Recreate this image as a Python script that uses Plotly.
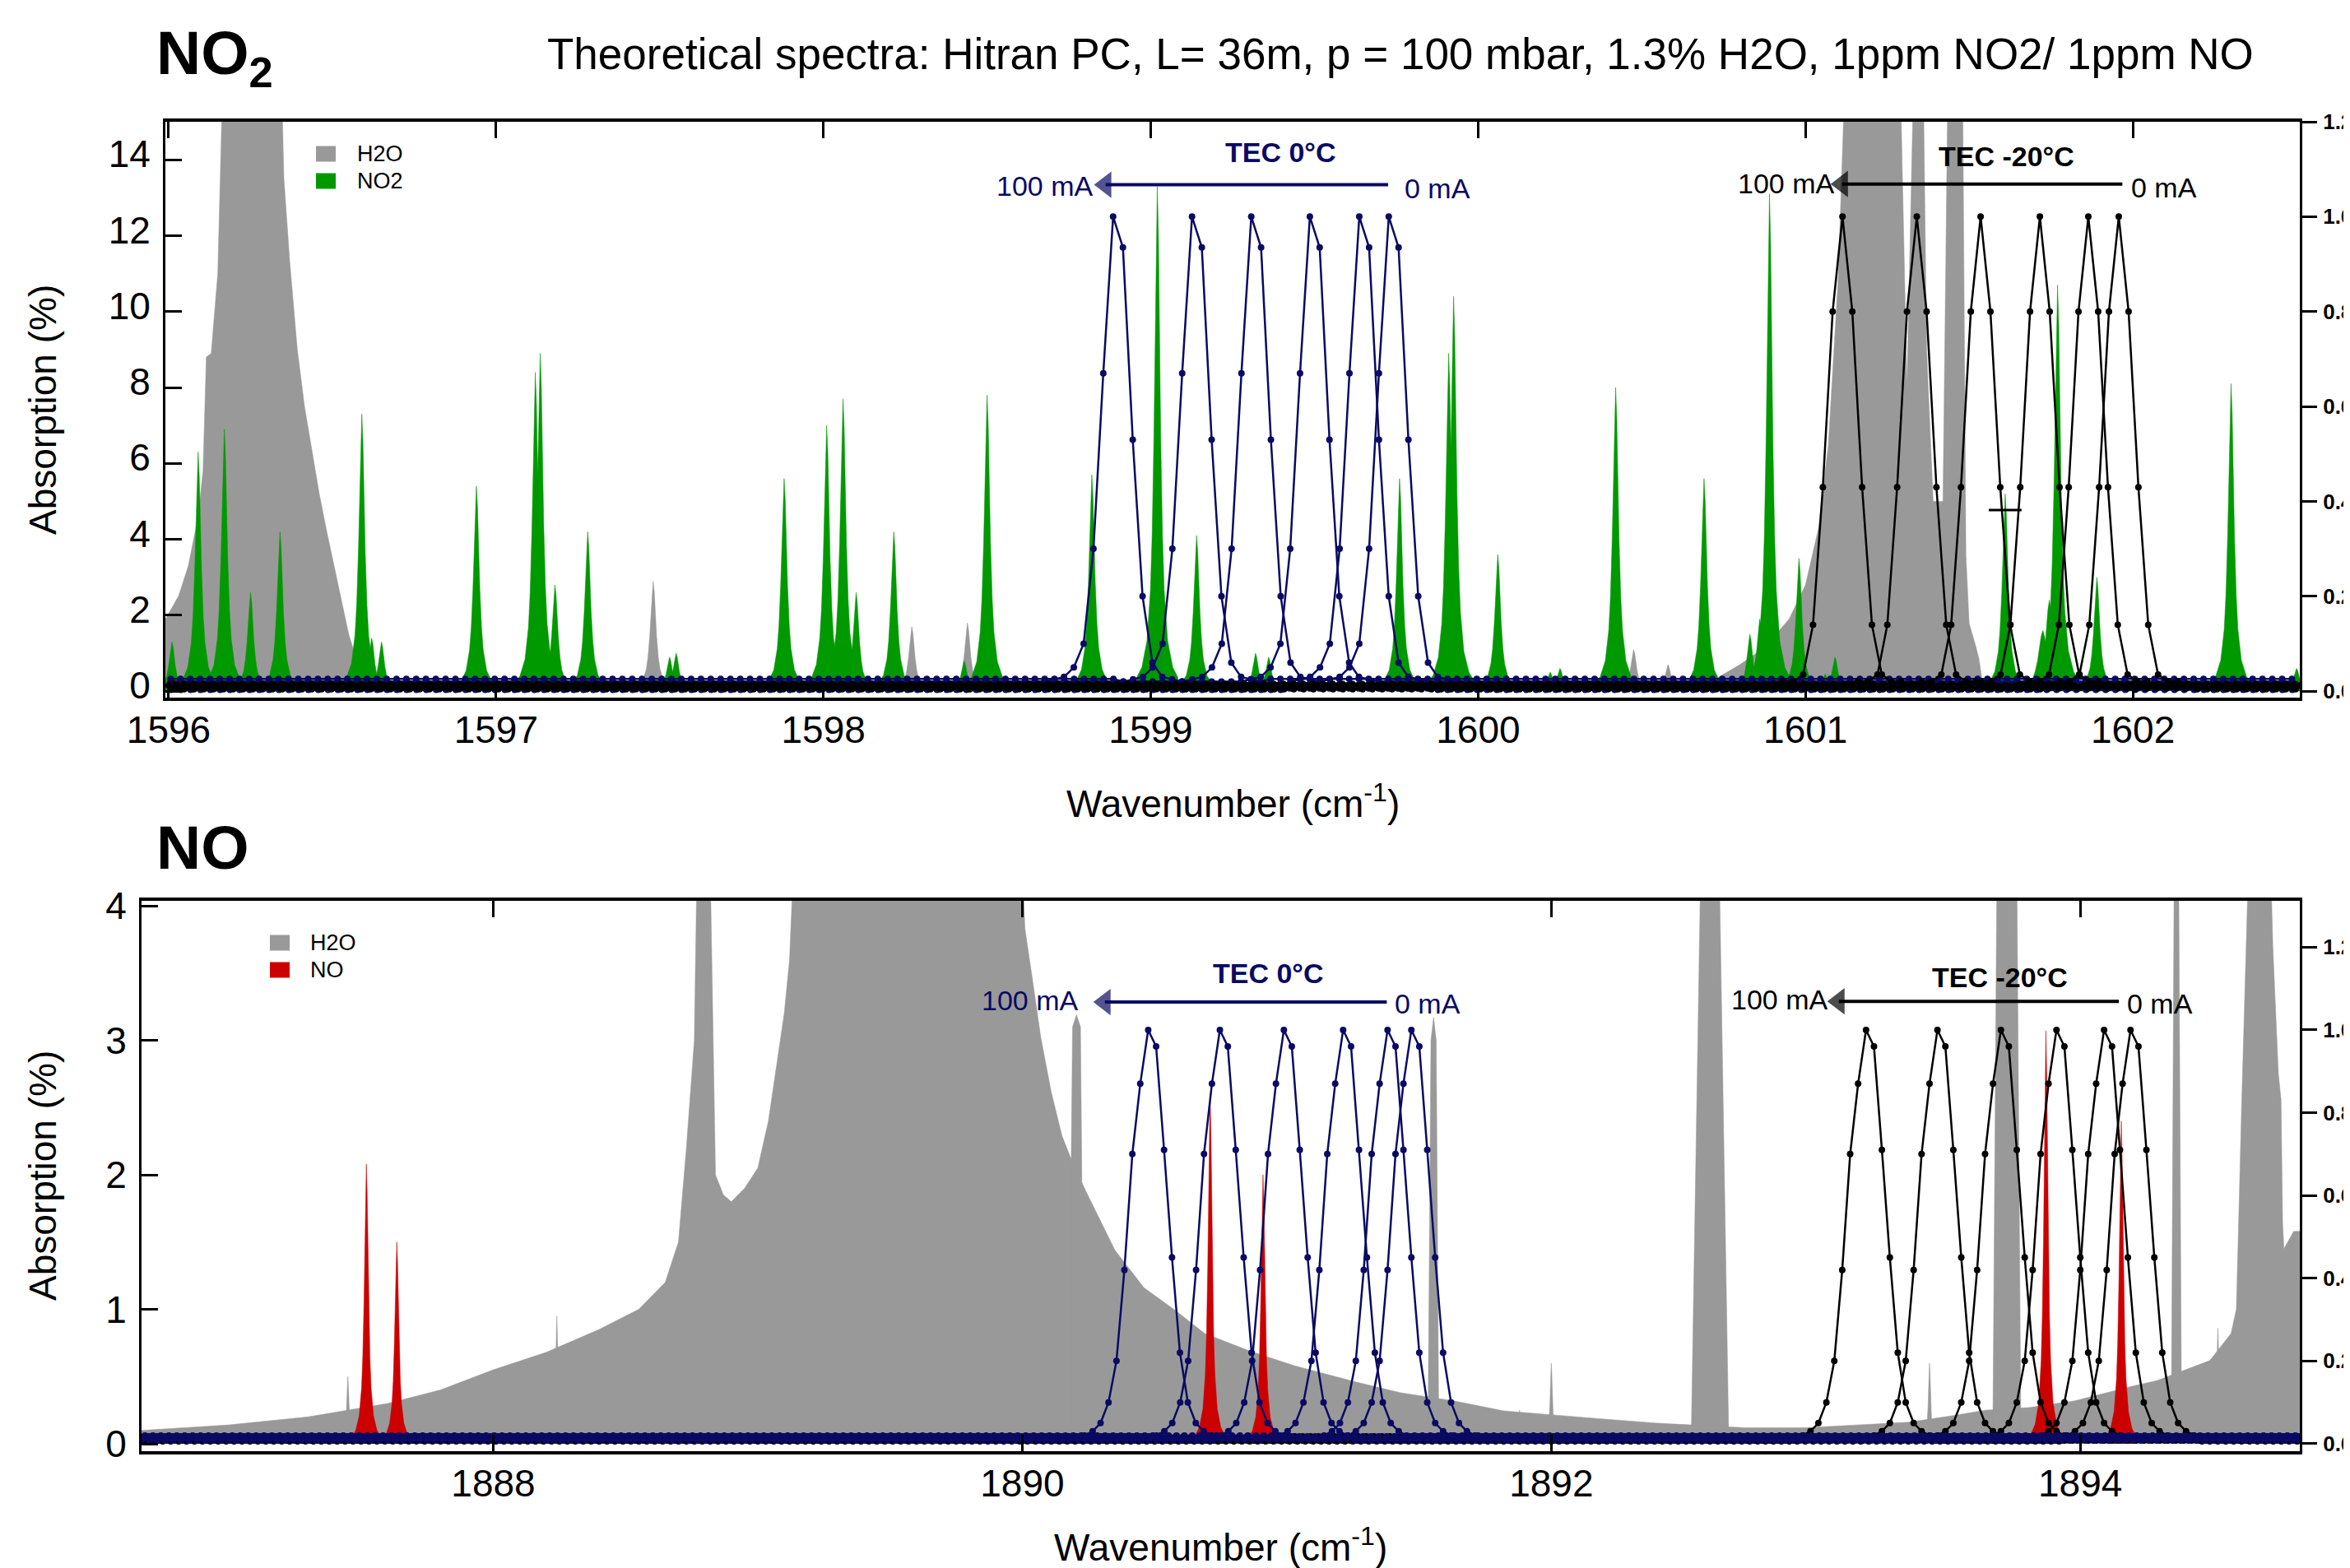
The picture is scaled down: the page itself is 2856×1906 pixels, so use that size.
import numpy as np
import plotly.graph_objects as go

W, H = 2856, 1906
FONT = "Liberation Sans, Arial, sans-serif"
GRAY = "#999999"
GREEN = "#009900"
RED = "#cc0000"
NAVY = "#0a0a64"
BLACK = "#000000"

# ---------------- data: top panel (NO2 region) ----------------
# NO2 absorption lines: position (cm-1), peak absorption (%), half width (cm-1)
NO2_POS = [1596.01, 1596.09, 1596.17, 1596.25, 1596.34, 1596.59, 1596.62, 1596.65,
           1596.94, 1597.12, 1597.135, 1597.18, 1597.28, 1597.53, 1597.55, 1597.88,
           1598.01, 1598.06, 1598.10, 1598.215, 1598.43, 1598.50, 1598.82, 1599.02,
           1599.14, 1599.32, 1599.36, 1599.76, 1599.91, 1599.925, 1600.06, 1600.22,
           1600.25, 1600.42, 1600.69, 1600.83, 1600.86, 1600.89, 1600.98, 1601.06,
           1601.09, 1601.61, 1601.725, 1601.745, 1601.77, 1601.89, 1601.97, 1602.30,
           1602.50]
NO2_HGT = [1.3, 6.3, 6.9, 2.6, 4.2, 7.3, 1.4, 1.3,
           5.4, 8.4, 8.9, 2.8, 4.2, 0.9, 1.0, 5.6,
           7.0, 7.7, 2.6, 4.2, 0.8, 7.8, 5.7, 13.3,
           4.1, 1.0, 0.9, 5.6, 8.9, 10.4, 3.6, 0.5,
           0.6, 8.0, 5.6, 1.5, 1.9, 13.1, 3.5, 0.45,
           0.9, 5.2, 1.6, 2.4, 10.7, 3.0, 0.4, 8.1,
           0.6]
NO2_HW = [0.0105] * 42 + [0.016, 0.013, 0.011, 0.0105, 0.0105, 0.0105, 0.0105]

# H2O narrow lines (top)
H2O_TOP_POS = [1597.32, 1597.48, 1598.27, 1598.44, 1600.475, 1600.58]
H2O_TOP_HGT = [0.35, 2.9, 1.7, 1.8, 1.1, 0.7]
H2O_TOP_HW = [0.0105, 0.0105, 0.0105, 0.0105, 0.0105, 0.0105]
# H2O strong / saturated bands (top), outline vertices
H2O_TOP_BAND_X = [
    [1595.99, 1596.03, 1596.06, 1596.09, 1596.105, 1596.115, 1596.13, 1596.15, 1596.165,
     1596.345, 1596.352, 1596.37, 1596.393, 1596.415, 1596.438, 1596.46, 1596.483,
     1596.505, 1596.528, 1596.55, 1596.575, 1596.6, 1596.645, 1596.70],
    [1600.70, 1600.75, 1600.80, 1600.85, 1600.90, 1600.95, 1601.0, 1601.04, 1601.07,
     1601.10, 1601.12, 1601.29, 1601.30, 1601.31, 1601.32, 1601.33, 1601.36, 1601.37,
     1601.39, 1601.42, 1601.435, 1601.48, 1601.49, 1601.50, 1601.52, 1601.53, 1601.54,
     1601.56],
]
H2O_TOP_BAND_Y = [
    [1.9, 2.5, 3.3, 4.6, 5.8, 8.8, 8.9, 11.0, 16.0,
     16.0, 13.5, 11.3, 9.0, 7.5, 6.3, 5.2, 4.2,
     3.3, 2.4, 1.5, 0.8, 0.4, 0.25, 0.15],
    [0.2, 0.45, 0.7, 1.0, 1.4, 1.9, 2.8, 4.3, 6.5,
     10.9, 16.0, 16.0, 12.0, 8.0, 12.0, 16.0, 16.0, 9.0,
     5.0, 5.0, 16.0, 16.0, 3.58, 1.78, 1.19, 0.85, 0.26,
     0.1],
]

# laser scans (relative intensity, right axis), TEC 0 C and TEC -20 C
LASER_TOP_NAVY = [1598.885, 1599.126, 1599.307, 1599.486, 1599.637, 1599.727]
LASER_TOP_BLACK = [1601.113, 1601.34, 1601.535, 1601.716, 1601.864, 1601.957]
LASER_TOP_NAVY_BASE = [0.006, 0.026, 0.014, 0.02, 0.003, 0.017]
LASER_TOP_BLACK_BASE = [0.006, 0.012, 0.009, 0.015, 0.01, 0.004]
# sampled profiles (sample index -> relative intensity), sample step 0.03 cm-1
PROF_K = [-7, -6, -5, -4, -3, -2, -1, 0, 1, 2, 3, 4, 5, 6, 7]
PROF_TOP_NAVY = [0.02, 0.025, 0.03, 0.05, 0.1, 0.3, 0.67, 1.0, 0.935, 0.53, 0.2, 0.06, 0.03, 0.025, 0.02]
PROF_TOP_BLACK = [0.015, 0.02, 0.02, 0.035, 0.14, 0.43, 0.8, 1.0, 0.8, 0.43, 0.14, 0.035, 0.02, 0.02, 0.015]

# ---------------- data: bottom panel (NO region) ----------------
NO_POS = [1887.52, 1887.635, 1890.71, 1890.91, 1893.87, 1894.155]
NO_HGT = [2.08, 1.5, 2.6, 2.0, 3.07, 2.4]
NO_HW = [0.009, 0.009, 0.009, 0.009, 0.009, 0.009]

H2O_BOT_POS = [1887.45, 1888.24, 1891.88, 1892.0, 1893.43, 1894.52]
H2O_BOT_HGT = [0.5, 0.95, 0.25, 0.6, 0.6, 0.86]
H2O_BOT_HW = [0.005, 0.005, 0.005, 0.005, 0.005, 0.005]
H2O_BOT_BAND_X = [
    [1886.67, 1887.0, 1887.3, 1887.6, 1887.8, 1888.0, 1888.2, 1888.4, 1888.55, 1888.65,
     1888.70, 1888.73, 1888.76, 1888.77, 1888.82, 1888.84, 1888.87, 1888.90, 1888.95,
     1889.0, 1889.04, 1889.07, 1889.10, 1889.12, 1889.135, 1890.0, 1890.01, 1890.04,
     1890.07, 1890.11, 1890.15, 1890.18, 1890.24, 1890.35, 1890.46, 1890.58, 1890.69,
     1890.86, 1891.03, 1891.26, 1891.43, 1891.63, 1891.82, 1892.16, 1892.39, 1892.53,
     1892.73, 1892.96, 1893.18, 1893.35, 1893.52, 1893.64, 1893.81, 1893.98, 1894.1,
     1894.2, 1894.29, 1894.40, 1894.49, 1894.57, 1894.59, 1894.598, 1894.61, 1894.636,
     1894.72, 1894.728, 1894.749, 1894.759, 1894.765, 1894.77, 1894.807, 1894.83],
    [1890.185, 1890.19, 1890.205, 1890.22, 1890.225],
    [1891.535, 1891.545, 1891.555, 1891.565, 1891.575],
    [1892.53, 1892.565, 1892.635, 1892.67],
    [1893.67, 1893.685, 1893.76, 1893.775],
    [1894.345, 1894.355, 1894.372, 1894.382],
]
H2O_BOT_BAND_Y = [
    [0.10, 0.14, 0.2, 0.3, 0.4, 0.55, 0.68, 0.85, 1.0, 1.2,
     1.5, 2.2, 3.0, 4.3, 4.3, 2.0, 1.85, 1.8, 1.9,
     2.05, 2.4, 2.8, 3.2, 3.6, 4.3, 4.3, 3.83, 3.43,
     3.02, 2.61, 2.29, 2.14, 1.88, 1.44, 1.16, 0.99, 0.82,
     0.69, 0.58, 0.46, 0.38, 0.32, 0.245, 0.19, 0.155, 0.14,
     0.12, 0.12, 0.14, 0.16, 0.21, 0.25, 0.27, 0.32, 0.38,
     0.43, 0.47, 0.55, 0.62, 0.82, 1.0, 1.59, 2.51, 4.3,
     4.3, 3.7, 2.75, 2.56, 1.64, 1.45, 1.58, 1.58],
    [2.1, 3.1, 3.19, 3.1, 2.0],
    [0.4, 3.0, 3.17, 3.0, 0.4],
    [0.15, 4.3, 4.3, 0.15],
    [0.25, 4.3, 4.3, 0.25],
    [0.45, 4.3, 4.3, 0.5],
]

LASER_BOT_NAVY = [1890.476, 1890.747, 1890.989, 1891.213, 1891.381, 1891.471]
LASER_BOT_BLACK = [1893.19, 1893.46, 1893.70, 1893.91, 1894.09, 1894.19]
LASER_BOT_NAVY_BASE = [0.012, 0.018, 0.008, 0.02, 0.014, 0.01]
LASER_BOT_BLACK_BASE = [0.008, 0.014, 0.018, 0.01, 0.012, 0.006]
PROF_BOT_K = [-8, -7, -6, -5, -4, -3, -2, -1, 0, 1, 2, 3, 4, 5, 6, 7, 8]
PROF_BOT = [0.02, 0.03, 0.05, 0.1, 0.2, 0.42, 0.7, 0.87, 1.0, 0.96, 0.71, 0.45, 0.22, 0.1, 0.05, 0.03, 0.02]

# normalised line shape (offset in units of half width -> fraction of peak)
SHAPE_U = [-6, -4.5, -3, -2, -1.5, -1, -0.67, -0.33, 0, 0.33, 0.67, 1, 1.5, 2, 3, 4.5, 6]
SHAPE_F = [0.027, 0.047, 0.1, 0.2, 0.31, 0.5, 0.69, 0.9, 1.0, 0.9, 0.69, 0.5, 0.31, 0.2, 0.1, 0.047, 0.027]

SCAN_STEP = 0.03
TOP_RANGE = [1595.99, 1602.51]
BOT_RANGE = [1886.67, 1894.83]

# tuning-direction arrows: (tail x, head x, y) in data units of each panel
ARROWS_TOP = [(1599.725, 1598.862, 13.34), (1601.968, 1601.112, 13.36)]
ARROWS_BOT = [(1891.378, 1890.312, 3.284), (1894.146, 1893.087, 3.29)]


# ---------------- helpers ----------------
def lines_outline(pos, hgt, hw):
    xs, ys = [], []
    for c, h, w in zip(pos, hgt, hw):
        px = [c + u * w for u in SHAPE_U]
        py_ = [h * f for f in SHAPE_F]
        xs += [px[0]] + px + [px[-1], None]
        ys += [0.0] + py_ + [0.0, None]
    return xs, ys


def bands_outline(bx, by):
    xs, ys = [], []
    for X, Y in zip(bx, by):
        xs += [X[0]] + list(X) + [X[-1], None]
        ys += [0.0] + list(Y) + [0.0, None]
    return xs, ys


def scan(center, ks, vals, base, rng):
    prof = dict(zip(ks, vals))
    k0 = int(np.ceil((rng[0] - center) / SCAN_STEP))
    k1 = int(np.floor((rng[1] - center) / SCAN_STEP))
    kk = list(range(k0, k1 + 1))
    return [center + k * SCAN_STEP for k in kk], [prof.get(k, base) for k in kk]


fig = go.Figure()


def add_fill(xs, ys, color, xa, ya):
    fig.add_trace(go.Scatter(x=xs, y=ys, mode="lines", fill="toself", fillcolor=color,
                             line=dict(color=color, width=0.5), xaxis=xa, yaxis=ya,
                             hoverinfo="skip", showlegend=False))


# top panel spectra
bx, by = bands_outline(H2O_TOP_BAND_X, H2O_TOP_BAND_Y)
lx, ly = lines_outline(H2O_TOP_POS, H2O_TOP_HGT, H2O_TOP_HW)
add_fill(bx + lx, by + ly, GRAY, "x", "y")
nx, ny = lines_outline(NO2_POS, NO2_HGT, NO2_HW)
add_fill(nx, ny, GREEN, "x", "y")

# bottom panel spectra
bx, by = bands_outline(H2O_BOT_BAND_X, H2O_BOT_BAND_Y)
lx, ly = lines_outline(H2O_BOT_POS, H2O_BOT_HGT, H2O_BOT_HW)
add_fill(bx + lx, by + ly, GRAY, "x2", "y3")
rx, ry = lines_outline(NO_POS, NO_HGT, NO_HW)
add_fill(rx, ry, RED, "x2", "y3")


def add_scans(centers, bases, ks, prof, color, rng, xa, ya):
    for c, b in zip(centers, bases):
        x, y = scan(c, ks, prof, b, rng)
        fig.add_trace(go.Scatter(x=x, y=y, mode="lines+markers", xaxis=xa, yaxis=ya,
                                 line=dict(color=color, width=2.5),
                                 marker=dict(color=color, size=8),
                                 hoverinfo="skip", showlegend=False))


add_scans(LASER_TOP_NAVY, LASER_TOP_NAVY_BASE, PROF_K, PROF_TOP_NAVY, NAVY, TOP_RANGE, "x", "y2")
add_scans(LASER_TOP_BLACK, LASER_TOP_BLACK_BASE, PROF_K, PROF_TOP_BLACK, BLACK, TOP_RANGE, "x", "y2")
add_scans(LASER_BOT_BLACK, LASER_BOT_BLACK_BASE, PROF_BOT_K, PROF_BOT, BLACK, BOT_RANGE, "x2", "y4")
add_scans(LASER_BOT_NAVY, LASER_BOT_NAVY_BASE, PROF_BOT_K, PROF_BOT, NAVY, BOT_RANGE, "x2", "y4")


# arrows (line with a triangle head), drawn on the left-axis scale of each panel
def add_arrows(arrows, colors, xa, ya):
    for (tail, head, yy), col in zip(arrows, colors):
        fig.add_trace(go.Scatter(x=[tail, head], y=[yy, yy], mode="lines+markers",
                                 xaxis=xa, yaxis=ya, line=dict(color=col, width=4),
                                 marker=dict(symbol=["line-ns", "triangle-left"], size=[0, 28],
                                             color=col, line=dict(width=0)),
                                 hoverinfo="skip", showlegend=False))


add_arrows(ARROWS_TOP, [NAVY, BLACK], "x", "y")
add_arrows(ARROWS_BOT, [NAVY, BLACK], "x2", "y3")


# ---------------- layout ----------------
def xax(domain, rng, ticks, anchor):
    return dict(domain=domain, range=rng, anchor=anchor, tickvals=ticks, automargin=False,
                ticks="inside", ticklen=20, tickwidth=3, tickcolor="black",
                showline=True, linewidth=4, linecolor="black", mirror="ticks",
                showgrid=False, zeroline=False, ticklabelstandoff=-4,
                tickfont=dict(size=46, family=FONT, color="black"))


def yax(domain, rng, ticks, anchor, shift=0):
    return dict(domain=domain, range=rng, anchor=anchor, tickvals=ticks, automargin=False,
                ticks="inside", ticklen=20, tickwidth=3, tickcolor="black",
                showline=True, linewidth=3, linecolor="black",
                showgrid=False, zeroline=False, ticklabelstandoff=6, ticklabelshift=shift,
                tickfont=dict(size=46, family=FONT, color="black"))


def y2ax(over, rng, anchor):
    return dict(overlaying=over, side="right", range=rng, anchor=anchor, automargin=False,
                tickvals=[0, 0.2, 0.4, 0.6, 0.8, 1.0, 1.2], tickformat=".1f",
                ticks="outside", ticklen=18, tickwidth=3, tickcolor="black",
                showline=True, linewidth=3, linecolor="black",
                showgrid=False, zeroline=False, ticklabelstandoff=2,
                tickfont=dict(size=26, family=FONT, color="black", weight="bold"))


TOP_DOM_X = [193 / W, 2787 / W]
BOT_DOM_X = [164 / W, 2787 / W]
TOP_DOM_Y = [1 - 840 / H, 1 - 140 / H]
BOT_DOM_Y = [1 - 1756 / H, 1 - 1087 / H]


def py(pix):
    return 1 - pix / H


annotations = []


def txt(text, x, y, size, xref="paper", yref="paper", xanchor="left", color="black", **kw):
    annotations.append(dict(text=text, x=x, y=y, xref=xref, yref=yref, xanchor=xanchor,
                            yanchor="middle", showarrow=False,
                            font=dict(size=size, family=FONT, color=color), **kw))


# titles
txt("<b>NO<sub>2</sub></b>", 180 / W, py(61), 75)
txt("Theoretical spectra: Hitran PC, L= 36m, p = 100 mbar, 1.3% H2O, 1ppm NO2/ 1ppm NO",
    655 / W, py(57), 53)
txt("<b>NO</b>", 180 / W, py(1022), 75)
# axis titles
txt("Wavenumber (cm<sup>-1</sup>)", 1490 / W, py(966), 46, xanchor="center")
txt("Wavenumber (cm<sup>-1</sup>)", 1475 / W, py(1870), 46, xanchor="center")
txt("Absorption (%)", 44 / W, py(490), 46, xanchor="center", textangle=-90)
txt("Absorption (%)", 44 / W, py(1421), 46, xanchor="center", textangle=-90)

# legends
shapes = []
for (lab, col, yc) in [("H2O", GRAY, 179), ("NO2", GREEN, 212)]:
    shapes.append(dict(type="rect", xref="paper", yref="paper", x0=376 / W, x1=400 / W,
                       y0=py(yc + 9.5), y1=py(yc - 9.5), fillcolor=col, line=dict(width=0)))
    txt(lab, 424 / W, py(yc), 27)
for (lab, col, yc) in [("H2O", GRAY, 1138), ("NO", RED, 1171)]:
    shapes.append(dict(type="rect", xref="paper", yref="paper", x0=320 / W, x1=344 / W,
                       y0=py(yc + 9.5), y1=py(yc - 9.5), fillcolor=col, line=dict(width=0)))
    txt(lab, 367 / W, py(yc), 27)

# cursor mark
shapes.append(dict(type="line", xref="x", yref="y", x0=1601.56, x1=1601.66, y0=4.77, y1=4.77,
                   line=dict(color="black", width=3)))


# TEC labels (data coordinates)
def tec(xr, yr, title, tx, ty, lab100, y100, lab0, y0, color):
    txt("<b>" + title + "</b>", tx, ty, 34, xref=xr, yref=yr, xanchor="center", color=color)
    txt("100 mA", lab100, y100, 34, xref=xr, yref=yr, xanchor="right", color=color)
    txt("0 mA", lab0, y0, 34, xref=xr, yref=yr, xanchor="left", color=color)


tec("x", "y", "TEC 0\u00b0C", 1599.397, 14.2, 1598.827, 13.3, 1599.77, 13.25, NAVY)
tec("x", "y", "TEC -20\u00b0C", 1601.614, 14.08, 1601.092, 13.38, 1601.99, 13.26, BLACK)
tec("x2", "y3", "TEC 0\u00b0C", 1890.93, 3.5, 1890.216, 3.295, 1891.402, 3.27, NAVY)
tec("x2", "y3", "TEC -20\u00b0C", 1893.695, 3.47, 1893.05, 3.305, 1894.171, 3.274, BLACK)

fig.update_layout(
    template="none",
    width=W, height=H, autosize=False, margin=dict(l=0, r=0, t=0, b=0, pad=0),
    paper_bgcolor="white", plot_bgcolor="white", showlegend=False,
    font=dict(family=FONT, color="black"),
    xaxis=xax(TOP_DOM_X, TOP_RANGE, [1596, 1597, 1598, 1599, 1600, 1601, 1602], "y"),
    yaxis=yax(TOP_DOM_Y, [-0.17, 15.0], [0, 2, 4, 6, 8, 10, 12, 14], "x", shift=-7),
    yaxis2=y2ax("y", [-0.0136, 1.2], "x"),
    xaxis2=xax(BOT_DOM_X, BOT_RANGE, [1888, 1890, 1892, 1894], "y3"),
    yaxis3=yax(BOT_DOM_Y, [-0.055, 4.037], [0, 1, 2, 3, 4], "x2"),
    yaxis4=y2ax("y3", [-0.018, 1.312], "x2"),
    annotations=annotations, shapes=shapes,
)

fig.write_html("out.html")
